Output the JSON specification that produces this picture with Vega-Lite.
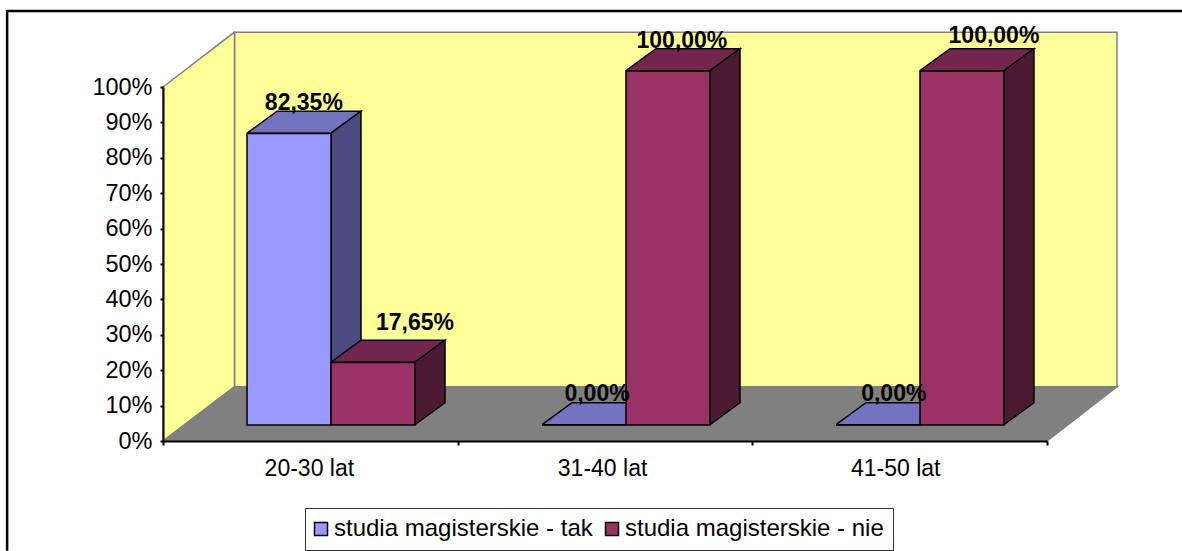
{"$schema":"https://vega.github.io/schema/vega-lite/v6.json","width":884,"height":354,"autosize":{"type":"none"},"padding":{"left":163,"top":87,"right":135,"bottom":110},"background":"white","view":{"stroke":null},
"config":{"font":"Liberation Sans"},
"datasets":{
"bars":[
{"category":"20-30 lat","series":"studia magisterskie - tak","value":82.35,"x0":0.2851,"x1":0.5701,"label":"82,35%","lx":0.478,"ly":93.5},
{"category":"20-30 lat","series":"studia magisterskie - nie","value":17.65,"x0":0.5701,"x1":0.8552,"label":"17,65%","lx":0.855,"ly":31.4},
{"category":"31-40 lat","series":"studia magisterskie - tak","value":0,"x0":1.2862,"x1":1.5712,"label":"0,00%","lx":1.473,"ly":11.2},
{"category":"31-40 lat","series":"studia magisterskie - nie","value":100,"x0":1.5712,"x1":1.8563,"label":"100,00%","lx":1.761,"ly":111},
{"category":"41-50 lat","series":"studia magisterskie - tak","value":0,"x0":2.2839,"x1":2.569,"label":"0,00%","lx":2.48,"ly":11.2},
{"category":"41-50 lat","series":"studia magisterskie - nie","value":100,"x0":2.569,"x1":2.854,"label":"100,00%","lx":2.82,"ly":112.4}
],
"frame":[{"i":0,"x":-0.529,"y":-31},{"i":1,"x":-0.529,"y":121.45},{"i":2,"x":3.46,"y":121.45}],
"wall":[{"i":0,"x":0.2427,"y":15.33},{"i":1,"x":3.2375,"y":15.33},{"i":2,"x":3.2375,"y":115.5},{"i":3,"x":0.2427,"y":115.5},{"i":4,"x":0.2427,"y":15.33}],
"side":[{"i":0,"x":0,"y":0},{"i":1,"x":0.2427,"y":15.33},{"i":2,"x":0.2427,"y":115.5},{"i":3,"x":0,"y":100},{"i":4,"x":0,"y":0}],
"floor":[{"i":0,"x":0,"y":0},{"i":1,"x":3,"y":0},{"i":2,"x":3.2375,"y":15.33},{"i":3,"x":0.2427,"y":15.33},{"i":4,"x":0,"y":0}],
"faces":[
{"id":"a-top","s":"tak","f":"top","i":0,"x":0.2851,"y":86.95},{"id":"a-top","s":"tak","f":"top","i":1,"x":0.5701,"y":86.95},{"id":"a-top","s":"tak","f":"top","i":2,"x":0.6719,"y":93.16},{"id":"a-top","s":"tak","f":"top","i":3,"x":0.3869,"y":93.16},{"id":"a-top","s":"tak","f":"top","i":4,"x":0.2851,"y":86.95},
{"id":"a-side","s":"tak","f":"side","i":0,"x":0.5701,"y":4.6},{"id":"a-side","s":"tak","f":"side","i":1,"x":0.6719,"y":10.81},{"id":"a-side","s":"tak","f":"side","i":2,"x":0.6719,"y":93.16},{"id":"a-side","s":"tak","f":"side","i":3,"x":0.5701,"y":86.95},{"id":"a-side","s":"tak","f":"side","i":4,"x":0.5701,"y":4.6},
{"id":"b-top","s":"nie","f":"top","i":0,"x":0.5701,"y":22.25},{"id":"b-top","s":"nie","f":"top","i":1,"x":0.8552,"y":22.25},{"id":"b-top","s":"nie","f":"top","i":2,"x":0.957,"y":28.46},{"id":"b-top","s":"nie","f":"top","i":3,"x":0.6719,"y":28.46},{"id":"b-top","s":"nie","f":"top","i":4,"x":0.5701,"y":22.25},
{"id":"b-side","s":"nie","f":"side","i":0,"x":0.8552,"y":4.6},{"id":"b-side","s":"nie","f":"side","i":1,"x":0.957,"y":10.81},{"id":"b-side","s":"nie","f":"side","i":2,"x":0.957,"y":28.46},{"id":"b-side","s":"nie","f":"side","i":3,"x":0.8552,"y":22.25},{"id":"b-side","s":"nie","f":"side","i":4,"x":0.8552,"y":4.6},
{"id":"c-top","s":"tak","f":"top","i":0,"x":1.2862,"y":4.6},{"id":"c-top","s":"tak","f":"top","i":1,"x":1.5712,"y":4.6},{"id":"c-top","s":"tak","f":"top","i":2,"x":1.673,"y":10.81},{"id":"c-top","s":"tak","f":"top","i":3,"x":1.388,"y":10.81},{"id":"c-top","s":"tak","f":"top","i":4,"x":1.2862,"y":4.6},
{"id":"d-top","s":"nie","f":"top","i":0,"x":1.5712,"y":104.6},{"id":"d-top","s":"nie","f":"top","i":1,"x":1.8563,"y":104.6},{"id":"d-top","s":"nie","f":"top","i":2,"x":1.9581,"y":110.81},{"id":"d-top","s":"nie","f":"top","i":3,"x":1.673,"y":110.81},{"id":"d-top","s":"nie","f":"top","i":4,"x":1.5712,"y":104.6},
{"id":"d-side","s":"nie","f":"side","i":0,"x":1.8563,"y":4.6},{"id":"d-side","s":"nie","f":"side","i":1,"x":1.9581,"y":10.81},{"id":"d-side","s":"nie","f":"side","i":2,"x":1.9581,"y":110.81},{"id":"d-side","s":"nie","f":"side","i":3,"x":1.8563,"y":104.6},{"id":"d-side","s":"nie","f":"side","i":4,"x":1.8563,"y":4.6},
{"id":"e-top","s":"tak","f":"top","i":0,"x":2.2839,"y":4.6},{"id":"e-top","s":"tak","f":"top","i":1,"x":2.569,"y":4.6},{"id":"e-top","s":"tak","f":"top","i":2,"x":2.6708,"y":10.81},{"id":"e-top","s":"tak","f":"top","i":3,"x":2.3857,"y":10.81},{"id":"e-top","s":"tak","f":"top","i":4,"x":2.2839,"y":4.6},
{"id":"f-top","s":"nie","f":"top","i":0,"x":2.569,"y":104.6},{"id":"f-top","s":"nie","f":"top","i":1,"x":2.854,"y":104.6},{"id":"f-top","s":"nie","f":"top","i":2,"x":2.9558,"y":110.81},{"id":"f-top","s":"nie","f":"top","i":3,"x":2.6708,"y":110.81},{"id":"f-top","s":"nie","f":"top","i":4,"x":2.569,"y":104.6},
{"id":"f-side","s":"nie","f":"side","i":0,"x":2.854,"y":4.6},{"id":"f-side","s":"nie","f":"side","i":1,"x":2.9558,"y":10.81},{"id":"f-side","s":"nie","f":"side","i":2,"x":2.9558,"y":110.81},{"id":"f-side","s":"nie","f":"side","i":3,"x":2.854,"y":104.6},{"id":"f-side","s":"nie","f":"side","i":4,"x":2.854,"y":4.6}
]},
"encoding":{
"x":{"field":"x","type":"quantitative","title":null,"scale":{"domain":[0,3],"nice":false,"zero":false},
"axis":{"values":[0,0.495,1,1.49,2,2.485,3],"grid":false,"zindex":1,"domainColor":"black","domainWidth":2,"tickColor":"black","tickWidth":2,"tickSize":4,"tickOpacity":{"condition":{"test":"datum.value % 1 != 0","value":0},"value":1},"labelExpr":"datum.value<0.6&&datum.value>0.4?'20-30 lat':datum.value<1.6&&datum.value>1.4?'31-40 lat':datum.value<2.6&&datum.value>2.4?'41-50 lat':''","labelFontSize":23,"labelColor":"black","labelPadding":12,"labelOverlap":false,"labelFlush":false,"labelBound":false}},
"y":{"field":"y","type":"quantitative","title":null,"scale":{"domain":[0,100],"nice":false,"zero":false},
"axis":{"values":[0,10,20,30,40,50,60,70,80,90,100],"grid":false,"zindex":1,"domainColor":"black","domainWidth":2,"tickColor":"black","tickWidth":2,"tickSize":3,"labelExpr":"datum.value+'%'","labelFontSize":23.5,"labelColor":"black","labelPadding":8,"labelOverlap":false,"labelFlush":false,"labelBound":false}},
"order":{"field":"i","type":"quantitative"}
},
"layer":[
{"data":{"name":"frame"},"mark":{"type":"line","stroke":"black","strokeWidth":2.5,"clip":false,"strokeJoin":"miter"}},
{"data":{"name":"wall"},"mark":{"type":"line","fill":"#FFFF99","stroke":"#808080","strokeWidth":1.5,"strokeJoin":"miter"}},
{"data":{"name":"side"},"mark":{"type":"line","fill":"#FFFF99","stroke":"#808080","strokeWidth":1.5,"strokeJoin":"miter"}},
{"data":{"name":"floor"},"mark":{"type":"line","fill":"#808080","stroke":"#808080","strokeWidth":1.5,"strokeJoin":"miter"}},
{"data":{"name":"faces"},"transform":[{"filter":"datum.s=='tak'&&datum.f=='top'"}],"mark":{"type":"line","fill":"#7373BF","stroke":"black","strokeWidth":1.5,"strokeJoin":"miter"},"encoding":{"detail":{"field":"id"}}},
{"data":{"name":"faces"},"transform":[{"filter":"datum.s=='tak'&&datum.f=='side'"}],"mark":{"type":"line","fill":"#4C4C80","stroke":"black","strokeWidth":1.5,"strokeJoin":"miter"},"encoding":{"detail":{"field":"id"}}},
{"data":{"name":"faces"},"transform":[{"filter":"datum.s=='nie'&&datum.f=='top'"}],"mark":{"type":"line","fill":"#73264D","stroke":"black","strokeWidth":1.5,"strokeJoin":"miter"},"encoding":{"detail":{"field":"id"}}},
{"data":{"name":"faces"},"transform":[{"filter":"datum.s=='nie'&&datum.f=='side'"}],"mark":{"type":"line","fill":"#4C1A33","stroke":"black","strokeWidth":1.5,"strokeJoin":"miter"},"encoding":{"detail":{"field":"id"}}},
{"data":{"name":"bars"},"mark":{"type":"rect","stroke":"black","strokeWidth":1.5,"yOffset":-16,"y2Offset":-16},
"encoding":{"x":{"field":"x0","type":"quantitative"},"x2":{"field":"x1"},"y":{"field":"value","type":"quantitative"},"y2":{"datum":0},"order":null,
"color":{"field":"series","type":"nominal","scale":{"domain":["studia magisterskie - tak","studia magisterskie - nie"],"range":["#9999FF","#993366"]},
"legend":{"title":null,"orient":"none","legendX":142,"legendY":421,"direction":"horizontal","columns":2,"symbolType":"square","symbolSize":169,"symbolStrokeColor":"black","symbolStrokeWidth":1.5,"symbolOffset":-5,"labelFontSize":24,"labelColor":"black","labelLimit":400,"labelOffset":1,"columnPadding":9,"padding":9,"strokeColor":"#333333","fillColor":"white"}}}},
{"data":{"name":"bars"},"mark":{"type":"text","font":"Liberation Sans","fontWeight":"bold","fontSize":23,"color":"black","baseline":"alphabetic","align":"center"},
"encoding":{"x":{"field":"lx","type":"quantitative"},"y":{"field":"ly","type":"quantitative"},"text":{"field":"label"},"order":null}}
]}
